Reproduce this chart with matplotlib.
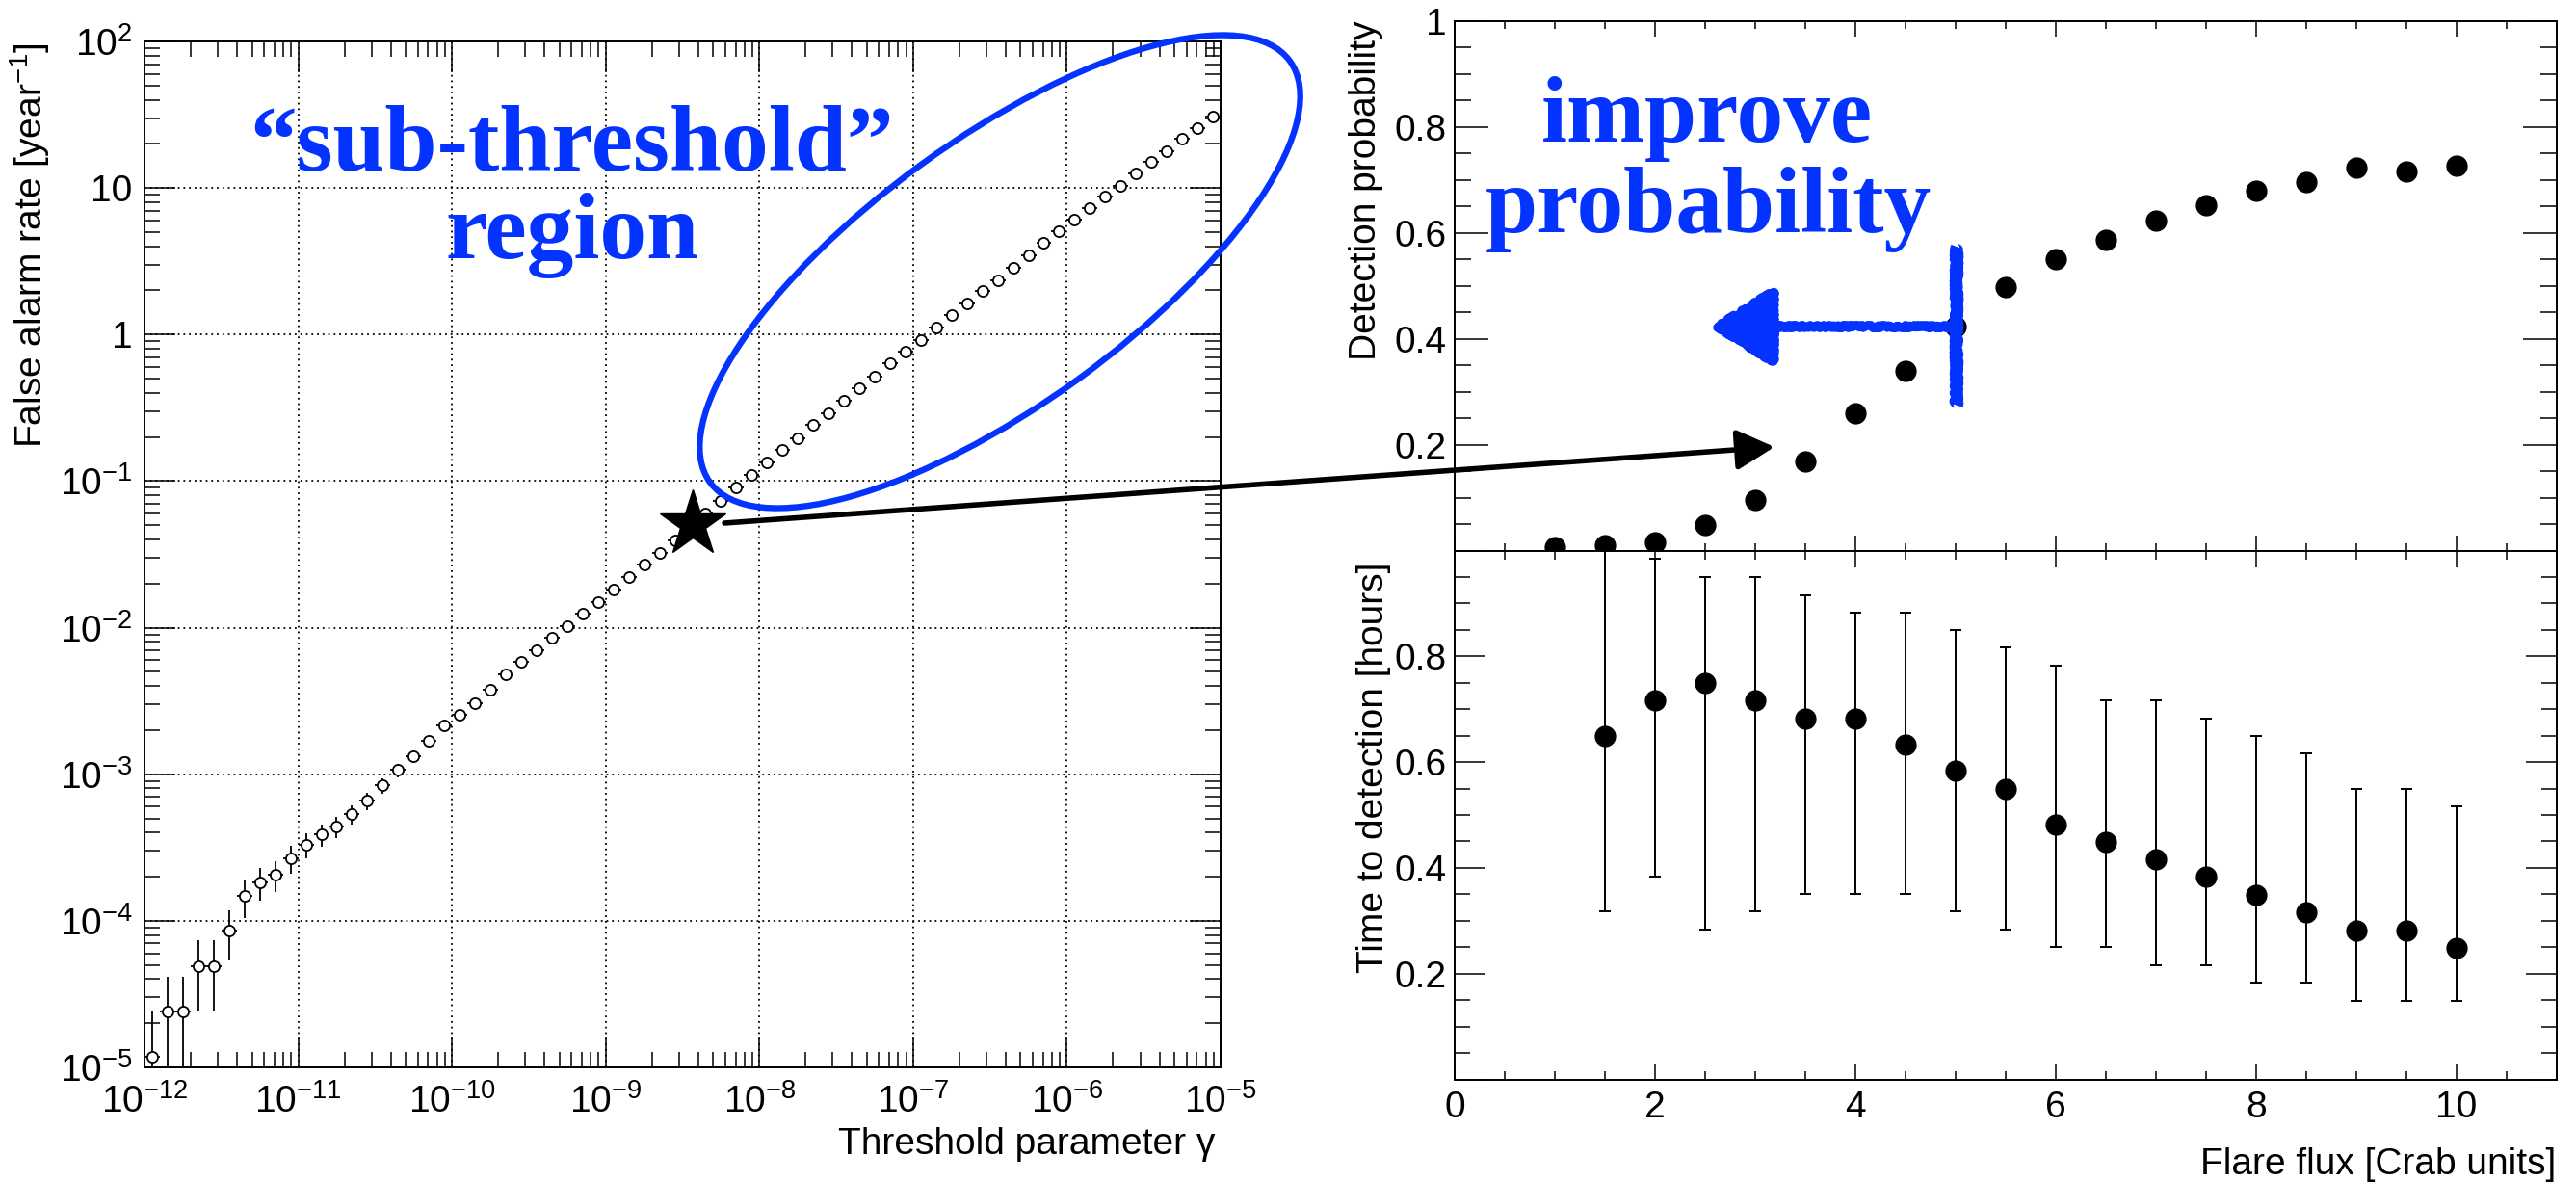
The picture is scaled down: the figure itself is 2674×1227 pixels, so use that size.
import matplotlib
matplotlib.use("Agg")
import matplotlib.pyplot as plt
from matplotlib.patches import Ellipse
from matplotlib.ticker import FixedLocator, FixedFormatter, MultipleLocator, LogLocator, NullFormatter
import numpy as np

plt.rcParams["font.family"] = ["Liberation Sans", "DejaVu Sans"]
plt.rcParams["font.size"] = 27
plt.rcParams["mathtext.fontset"] = "custom"
plt.rcParams["mathtext.rm"] = "Liberation Sans"
plt.rcParams["mathtext.it"] = "Liberation Sans:italic"
plt.rcParams["mathtext.bf"] = "Liberation Sans:bold"

W, H = 2674, 1227
BLUE = "#0433ff"

# left panel: false alarm rate vs threshold parameter (70 log bins, 1e-12 .. 1e-5)
gamma_edges = np.logspace(-12, -5, 71)
rate = [1.19e-5, 2.40e-5, 2.40e-5, 4.88e-5, 4.88e-5, 8.57e-5, 1.47e-4, 1.83e-4, 2.06e-4, 2.68e-4,
        3.31e-4, 3.87e-4, 4.40e-4, 5.32e-4, 6.61e-4, 8.41e-4, 1.07e-3, 1.32e-3, 1.69e-3, 2.14e-3,
        2.54e-3, 3.06e-3, 3.76e-3, 4.78e-3, 5.81e-3, 7.03e-3, 8.57e-3, 1.02e-2, 1.24e-2, 1.50e-2,
        1.81e-2, 2.21e-2, 2.69e-2, 3.24e-2, 3.94e-2, 4.90e-2, 6.05e-2, 7.29e-2, 9.06e-2, 0.110,
        0.135, 0.163, 0.197, 0.241, 0.289, 0.356, 0.431, 0.519, 0.635, 0.766,
        0.918, 1.12, 1.35, 1.63, 1.98, 2.36, 2.87, 3.48, 4.21, 5.05,
        6.11, 7.29, 8.75, 10.4, 12.6, 15.0, 17.9, 21.6, 25.8, 30.5]
rate_err = [1.2e-5, 1.73e-5, 1.73e-5, 2.44e-5, 2.44e-5, 3.2e-5, 4.2e-5, 4.6e-5, 5.0e-5, 5.7e-5,
            6.3e-5, 6.8e-5, 7.3e-5, 8.0e-5, 8.9e-5, 1.0e-4, 1.13e-4, 1.26e-4, 1.42e-4, 1.6e-4,
            1.75e-4, 1.92e-4, 2.12e-4, 2.39e-4, 2.64e-4, 2.90e-4, 3.21e-4, 3.50e-4, 3.86e-4, 4.24e-4,
            4.66e-4, 5.15e-4, 5.68e-4, 6.24e-4, 6.88e-4, 7.67e-4, 8.52e-4, 9.35e-4, 1.04e-3, 1.15e-3,
            1.27e-3, 1.40e-3, 1.54e-3, 1.70e-3, 1.86e-3, 2.07e-3, 2.27e-3, 2.50e-3, 2.76e-3, 3.03e-3,
            3.32e-3, 3.67e-3, 4.02e-3, 4.42e-3, 4.87e-3, 5.32e-3, 5.87e-3, 6.46e-3, 7.11e-3, 7.78e-3,
            8.56e-3, 9.35e-3, 1.02e-2, 1.12e-2, 1.23e-2, 1.34e-2, 1.47e-2, 1.61e-2, 1.76e-2, 1.91e-2]
star_gamma, star_rate = 3.7e-9, 0.051

# right panels: detection probability and time to detection vs flare flux
flux_p = [1, 1.5, 2, 2.5, 3, 3.5, 4, 4.5, 5, 5.5, 6, 6.5, 7, 7.5, 8, 8.5, 9, 9.5, 10]
p_det = [0.006, 0.010, 0.016, 0.048, 0.096, 0.168, 0.260, 0.340, 0.423, 0.497,
         0.550, 0.587, 0.624, 0.653, 0.679, 0.697, 0.723, 0.716, 0.727]

flux_t = [1.5, 2, 2.5, 3, 3.5, 4, 4.5, 5, 5.5, 6, 6.5, 7, 7.5, 8, 8.5, 9, 9.5, 10]
t_det = [0.649, 0.717, 0.750, 0.717, 0.683, 0.683, 0.633, 0.583, 0.550,
         0.482, 0.449, 0.416, 0.383, 0.349, 0.316, 0.282, 0.282, 0.249]
t_hi = [1.05, 0.984, 0.950, 0.950, 0.916, 0.883, 0.883, 0.850, 0.817,
        0.783, 0.717, 0.717, 0.683, 0.650, 0.616, 0.550, 0.550, 0.517]
t_lo = [0.317, 0.383, 0.283, 0.317, 0.350, 0.350, 0.350, 0.317, 0.283,
        0.250, 0.250, 0.215, 0.215, 0.183, 0.183, 0.149, 0.149, 0.149]

fig = plt.figure(figsize=(W / 100, H / 100), dpi=100)


def px_axes(x0, y0, x1, y1):
    return fig.add_axes([x0 / W, 1 - y1 / H, (x1 - x0) / W, (y1 - y0) / H])


def root_ticks(ax, xmaj, xmin, ymaj, ymin):
    for side in ax.spines.values():
        side.set_linewidth(1.4)
    ax.tick_params(which="both", direction="in", top=True, right=True, width=1.1)
    ax.tick_params(axis="x", which="major", length=xmaj)
    ax.tick_params(axis="x", which="minor", length=xmin)
    ax.tick_params(axis="y", which="major", length=ymaj)
    ax.tick_params(axis="y", which="minor", length=ymin)


# ---------------- left panel ----------------
ax1 = px_axes(150, 43, 1267, 1108)
gamma = np.sqrt(gamma_edges[:-1] * gamma_edges[1:])
rate = np.array(rate)
rate_err = np.array(rate_err)
low = np.minimum(rate_err, rate * 0.9999)
ax1.errorbar(gamma, rate, xerr=[gamma - gamma_edges[:-1], gamma_edges[1:] - gamma],
             yerr=[low, rate_err], fmt="o", ms=8, mfc="white", mec="black", mew=1.3,
             ecolor="black", elinewidth=1.3, capsize=0, zorder=3)
ax1.plot(star_gamma, star_rate, marker="*", ms=52, color="black", clip_on=False, zorder=6)
ax1.set_xscale("log")
ax1.set_yscale("log")
ax1.set_xlim(1e-12, 1e-5)
ax1.set_ylim(1e-5, 1e2)

xdec = [1e-12, 1e-11, 1e-10, 1e-9, 1e-8, 1e-7, 1e-6, 1e-5]
ydec = [1e-5, 1e-4, 1e-3, 1e-2, 1e-1, 1, 10, 100]
ax1.xaxis.set_major_locator(FixedLocator(xdec))
ax1.xaxis.set_major_formatter(FixedFormatter([r"$10^{%d}$" % e for e in range(-12, -4)]))
ax1.yaxis.set_major_locator(FixedLocator(ydec))
ax1.yaxis.set_major_formatter(FixedFormatter([r"$10^{-5}$", r"$10^{-4}$", r"$10^{-3}$",
                                              r"$10^{-2}$", r"$10^{-1}$", "1", "10", r"$10^{2}$"]))
for axis in (ax1.xaxis, ax1.yaxis):
    axis.set_minor_locator(LogLocator(base=10, subs=range(2, 10), numticks=20))
    axis.set_minor_formatter(NullFormatter())
root_ticks(ax1, 23, 11.5, 23, 11.5)
ax1.tick_params(axis="x", pad=12, labelsize=28)
ax1.tick_params(axis="y", pad=9, labelsize=28)
ax1.grid(True, which="major", color="black", lw=1.3, ls=(0, (1, 2.2)))

fig.text(54 / W, 1 - 44 / H, "False alarm rate [year$^{-1}$]", rotation=90,
         ha="right", va="top", fontsize=28)
fig.text(1261 / W, 1 - 1198 / H, "Threshold parameter γ", ha="right", va="baseline", fontsize=28)

# ---------------- right top panel ----------------
ax2 = px_axes(1510, 22, 2654, 571.6)
ax2.plot(flux_p, p_det, "o", color="black", ms=15, zorder=3)
ax2.set_xlim(0, 11)
ax2.set_ylim(0, 1)
ax2.xaxis.set_major_locator(MultipleLocator(2))
ax2.xaxis.set_minor_locator(MultipleLocator(0.5))
ax2.xaxis.set_major_formatter(NullFormatter())
ax2.yaxis.set_major_locator(FixedLocator([0, 0.2, 0.4, 0.6, 0.8, 1.0]))
ax2.yaxis.set_major_formatter(FixedFormatter(["", "0.2", "0.4", "0.6", "0.8", "1"]))
ax2.yaxis.set_minor_locator(MultipleLocator(0.05))
root_ticks(ax2, 11.5, 5.5, 25, 12.5)
ax2.tick_params(axis="y", pad=6, labelsize=28)
fig.text(1436 / W, 1 - 21 / H, "Detection probability", rotation=90, ha="right", va="top", fontsize=28)

# ---------------- right bottom panel ----------------
ax3 = px_axes(1510, 571.6, 2654, 1120.5)
t_det = np.array(t_det)
ax3.errorbar(flux_t, t_det, yerr=[t_det - np.array(t_lo), np.array(t_hi) - t_det], fmt="o",
             color="black", ms=15, ecolor="black", elinewidth=1.4, capsize=4, capthick=1.4, zorder=3)
ax3.set_xlim(0, 11)
ax3.set_ylim(0, 1)
ax3.xaxis.set_major_locator(MultipleLocator(2))
ax3.xaxis.set_minor_locator(MultipleLocator(0.5))
ax3.yaxis.set_major_locator(FixedLocator([0, 0.2, 0.4, 0.6, 0.8, 1.0]))
ax3.yaxis.set_major_formatter(FixedFormatter(["", "0.2", "0.4", "0.6", "0.8", ""]))
ax3.yaxis.set_minor_locator(MultipleLocator(0.05))
root_ticks(ax3, 12.5, 6.5, 23, 11.5)
ax3.tick_params(axis="y", pad=6, labelsize=28)
ax3.tick_params(axis="x", pad=8, labelsize=28)
fig.text(1444 / W, 1 - 584 / H, "Time to detection [hours]", rotation=90, ha="right", va="top", fontsize=28)
fig.text(2653 / W, 1 - 1219 / H, "Flare flux [Crab units]", ha="right", va="baseline", fontsize=28)

# ---------------- annotations (pixel coordinates) ----------------
axo = fig.add_axes([0, 0, 1, 1], zorder=10)
axo.set_xlim(0, W)
axo.set_ylim(H, 0)
axo.axis("off")

axo.add_patch(Ellipse((1038, 282), width=2 * 372, height=2 * 138, angle=-36,
                      fill=False, ec=BLUE, lw=4.6))
axo.annotate("", xy=(1842, 464), xytext=(752, 543),
             arrowprops=dict(arrowstyle="-|>,head_length=1.6,head_width=0.85", mutation_scale=15,
                             lw=4, color="black", shrinkA=0, shrinkB=0))
blue_arrow = axo.annotate("", xy=(1775, 339), xytext=(2031, 339),
                          arrowprops=dict(arrowstyle="-|>,head_length=2.3,head_width=1.45",
                                          mutation_scale=18, lw=6.5, color=BLUE,
                                          shrinkA=0, shrinkB=0))
blue_arrow.arrow_patch.set_sketch_params(scale=1.5, length=4, randomness=6)
bar, = axo.plot([2031, 2031], [256, 421], color=BLUE, lw=8.5, solid_capstyle="butt")
bar.set_sketch_params(scale=1.5, length=4, randomness=6)

serif = dict(family=["Liberation Serif", "DejaVu Serif"], fontweight="bold", color=BLUE,
             fontsize=70, ha="center", va="baseline")
axo.text(594, 177, "\u201csub-threshold\u201d", **serif)
axo.text(594, 268, "region", **serif)
axo.text(1772, 147, "improve", **serif)
axo.text(1773, 241, "probability", **serif)

fig.savefig("out.png", dpi=100)
plt.close(fig)
